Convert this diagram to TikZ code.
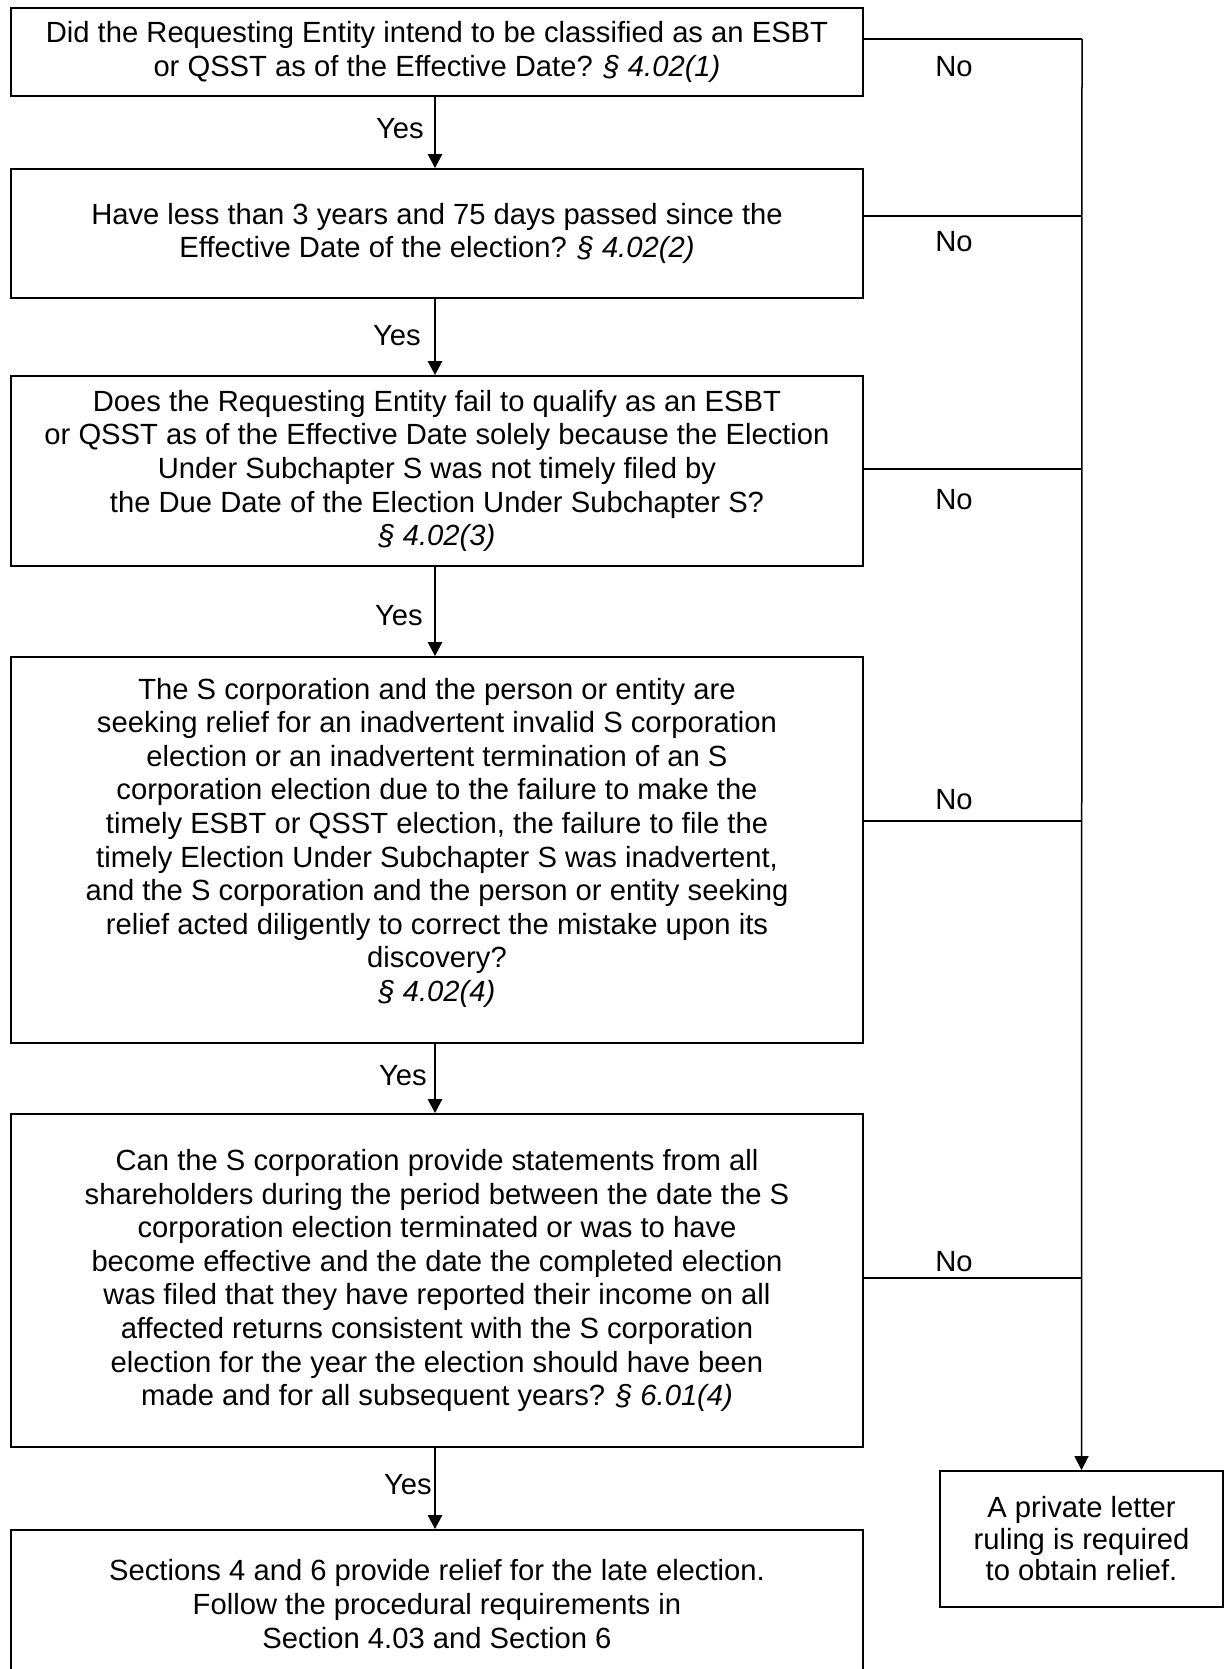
\documentclass[tikz,border=0pt]{standalone}
\usepackage{fontspec}
\setmainfont{Liberation Sans}
\usetikzlibrary{arrows.meta}
\tikzset{
  qbox/.style={draw, line width=1.8pt, align=center, inner sep=0pt, minimum width=852pt,
    font=\fontsize{29.2}{33.6}\selectfont},
  rbox/.style={draw, line width=1.8pt, align=center, inner sep=0pt, minimum width=283pt, minimum height=136pt,
    font=\fontsize{29.2}{31.5}\selectfont},
  yesarrow/.style={line width=2.6pt, -{Triangle[length=14pt,width=14pt]}},
  noline/.style={line width=1.5pt},
  lbl/.style={font=\fontsize{29.2}{31}\selectfont, inner sep=0pt}
}
\begin{document}
\begin{tikzpicture}[x=1pt,y=-1pt]
\useasboundingbox (0,0) rectangle (1225,1669);
\fill[white] (0,0) rectangle (1225,1669);

\node[qbox, minimum height=88pt] (b1) at (437,52) {Did the Requesting Entity intend to be classified as an ESBT\\ or QSST as of the Effective Date? \textit{§ 4.02(1)}};
\node[qbox, minimum height=129pt] (b2) at (437,233.5) {Have less than 3 years and 75 days passed since the\\ Effective Date of the election? \textit{§ 4.02(2)}};
\node[qbox, minimum height=190pt] (b3) at (437,471) {Does the Requesting Entity fail to qualify as an ESBT\\ or QSST as of the Effective Date solely because the Election\\ Under Subchapter S was not timely filed by\\ the Due Date of the Election Under Subchapter S?\\ \textit{§ 4.02(3)}};
\node[qbox, minimum height=386pt] (b4) at (437,850) {The S corporation and the person or entity are\\ seeking relief for an inadvertent invalid S corporation\\ election or an inadvertent termination of an S\\ corporation election due to the failure to make the\\ timely ESBT or QSST election, the failure to file the\\ timely Election Under Subchapter S was inadvertent,\\ and the S corporation and the person or entity seeking\\ relief acted diligently to correct the mistake upon its\\ discovery?\\ \textit{§ 4.02(4)}\\[-13pt]\mbox{}};
\node[qbox, minimum height=333pt] (b5) at (437,1280.5) {Can the S corporation provide statements from all\\ shareholders during the period between the date the S\\ corporation election terminated or was to have\\ become effective and the date the completed election\\ was filed that they have reported their income on all\\ affected returns consistent with the S corporation\\ election for the year the election should have been\\ made and for all subsequent years? \textit{§ 6.01(4)}};
\node[qbox, minimum height=148pt] (b6) at (437,1604) {Sections 4 and 6 provide relief for the late election.\\ Follow the procedural requirements in\\ Section 4.03 and Section 6};
\node[rbox] (plr) at (1081.5,1539) {A private letter\\ ruling is required\\ to obtain relief.};

% Yes arrows
\draw[yesarrow] (b1.south -| 435,0) -- (b2.north -| 435,0);
\draw[yesarrow] (b2.south -| 435,0) -- (b3.north -| 435,0);
\draw[yesarrow] (b3.south -| 435,0) -- (b4.north -| 435,0);
\draw[yesarrow] (b4.south -| 435,0) -- (b5.north -| 435,0);
\draw[yesarrow] (b5.south -| 435,0) -- (b6.north -| 435,0);

\node[lbl, anchor=east] (y1) at (424,129) {Yes};
\node[lbl, anchor=east] (y2) at (421,336) {Yes};
\node[lbl, anchor=east] (y3) at (423,616) {Yes};
\node[lbl, anchor=east] (y4) at (427,1076) {Yes};
\node[lbl, anchor=east] (y5) at (432,1485) {Yes};

% No connectors
\coordinate (j1) at (1082,39);
\coordinate (j2) at (1082,216);
\coordinate (j3) at (1082,469);
\coordinate (j4) at (1082,821);
\coordinate (j5) at (1082,1278);
\draw[noline] (b1.east |- j1) -- (j1);
\draw[noline] (b2.east |- j2) -- (j2);
\draw[noline] (b3.east |- j3) -- (j3);
\draw[noline] (b4.east |- j4) -- (j4);
\draw[noline] (b5.east |- j5) -- (j5);
\draw[noline, -{Triangle[length=14pt,width=14pt]}] (j1) -- (plr.north);

\node[lbl] (n1) at (954,67) {No};
\node[lbl] (n2) at (954,242) {No};
\node[lbl] (n3) at (954,500) {No};
\node[lbl] (n4) at (954,800) {No};
\node[lbl] (n5) at (954,1262) {No};
\end{tikzpicture}
\end{document}
